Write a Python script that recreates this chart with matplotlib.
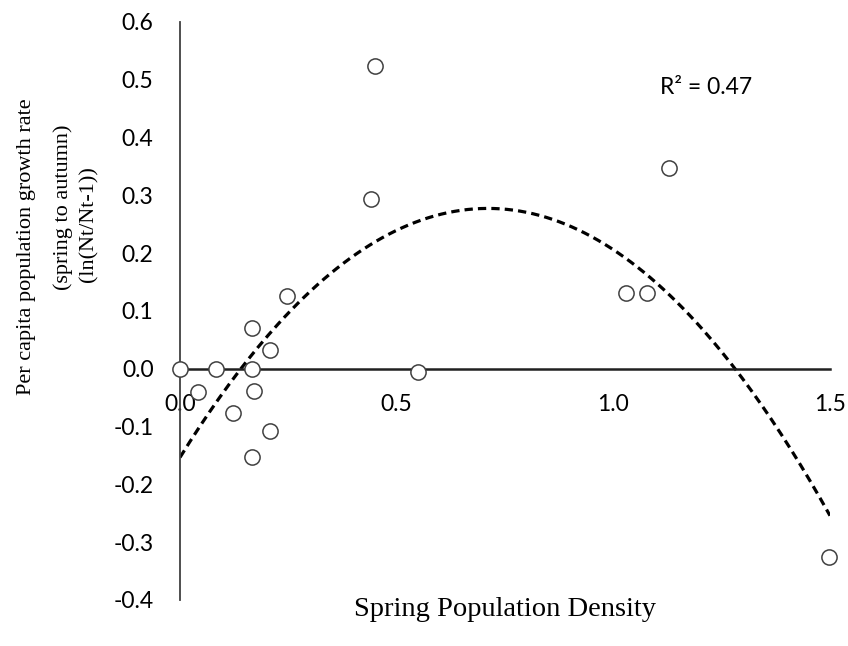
import numpy as np
from matplotlib import pyplot as plt

# spring density vs per capita growth rate
density = [0.0, 0.042, 0.083, 0.123, 0.167, 0.167, 0.171, 0.167, 0.207, 0.207,
           0.248, 0.449, 0.440, 0.549, 1.029, 1.077, 1.128, 1.498]
growth = [0.0, -0.041, 0.0, -0.077, 0.070, 0.0, -0.039, -0.153, 0.033, -0.108,
          0.126, 0.524, 0.294, -0.006, 0.132, 0.132, 0.348, -0.325]
x_ticks = [0.0, 0.5, 1.0, 1.5]
y_ticks = [0.6, 0.5, 0.4, 0.3, 0.2, 0.1, 0.0, -0.1, -0.2, -0.3, -0.4]

W, H = 848, 646
fig = plt.figure(figsize=(W / 100, H / 100), dpi=100)
ax = fig.add_axes([180 / W, 1 - 600 / H, 650 / W, 578 / H])

# second order polynomial trendline
coef = np.polyfit(density, growth, 2)
xs = np.linspace(0, 1.5, 200)
ax.plot(xs, np.polyval(coef, xs), color='black', lw=2.3, ls=(0, (2.6, 1.6)), zorder=2)

ax.scatter(density, growth, s=120, facecolors='white', edgecolors='#404040',
           linewidths=1.1, zorder=3, clip_on=False)

ax.set_xlim(0, 1.5)
ax.set_ylim(-0.4, 0.6)
ax.spines['left'].set_position(('data', 0))
ax.spines['bottom'].set_position(('data', 0))
ax.spines['top'].set_visible(False)
ax.spines['right'].set_visible(False)
ax.spines['left'].set_linewidth(1.3)
ax.spines['left'].set_color('#404040')
ax.spines['bottom'].set_linewidth(1.8)
ax.spines['bottom'].set_color('#202020')

ax.set_xticks(x_ticks)
ax.set_xticklabels(['%.1f' % v for v in x_ticks])
ax.set_yticks(y_ticks)
ax.set_yticklabels(['%.1f' % v for v in y_ticks])
ax.tick_params(axis='x', length=0, pad=18, labelsize=16.5)
ax.tick_params(axis='y', length=0, pad=19, labelsize=16.5)
for lab in ax.get_xticklabels() + ax.get_yticklabels():
    lab.set_family('Lato')

ax.text(660 / W, 1 - 88 / H, 'R² = 0.47', transform=fig.transFigure,
        fontsize=16.5, family='Lato', va='center', ha='left')

fig.text(505 / W, 1 - 609 / H, 'Spring Population Density', family='Liberation Serif',
         fontsize=20.5, ha='center', va='center')
fig.text(27 / W, 1 - 247 / H, 'Per capita population growth rate', family='Liberation Serif',
         fontsize=16, ha='center', va='center', rotation=90)
fig.text(63 / W, 1 - 207 / H, '(spring to autumn)', family='Liberation Serif',
         fontsize=16, ha='center', va='center', rotation=90)
fig.text(89 / W, 1 - 224 / H, '(ln(Nt/Nt-1))', family='Liberation Serif',
         fontsize=16, ha='center', va='center', rotation=90)

plt.savefig('out.png', dpi=100)
plt.close()
